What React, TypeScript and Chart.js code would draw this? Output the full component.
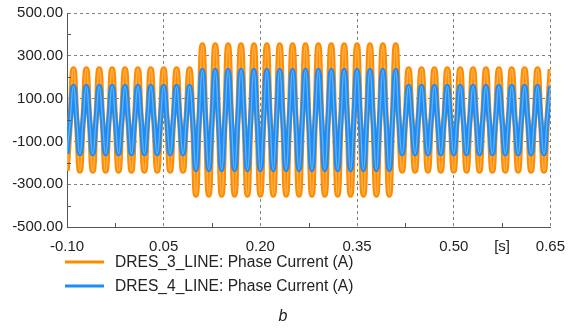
import React, { useEffect, useRef } from "react";
import { Chart, registerables } from "chart.js";

Chart.register(...registerables);

// Sampling grid of the recorded waveforms (quarter period of 50 Hz)
const SAMPLE_START = -0.1;
const SAMPLE_STEP = 0.005;

// Axis ticks
const X_TICKS = [-0.1, 0.05, 0.2, 0.35, 0.5, 0.65];
const X_MINOR = [-0.025, 0.125, 0.275, 0.425, 0.575];
const Y_TICKS = [-500, -300, -100, 100, 300, 500];
const Y_MINOR = [-400, -200, 0, 200, 400];
const X_UNIT = "[s]";
const X_UNIT_AT = 0.575;

const SERIES_NAMES = [
  "DRES_3_LINE: Phase Current (A)",
  "DRES_4_LINE: Phase Current (A)",
];
const CAPTION = "b";

// DRES_3_LINE phase current samples (A)
const DRES3 = [
  -238, 0, 238, 0, -238, 0, 238, 0, -238, 0, 238, 0, -238, 0, 238, 0, -238, 0, 238, 0,
  -238, 0, 238, 0, -238, 0, 238, 0, -238, 0, 238, 0, -238, 0, 238, 0, -238, 0, 238, 0,
  -350, 0, 350, 0, -350, 0, 350, 0, -350, 0, 350, 0, -350, 0, 350, 0, -350, 0, 350, 0,
  -350, 0, 350, 0, -350, 0, 350, 0, -350, 0, 350, 0, -350, 0, 350, 0, -350, 0, 350, 0,
  -350, 0, 350, 0, -350, 0, 350, 0, -350, 0, 350, 0, -350, 0, 350, 0, -350, 0, 350, 0,
  -350, 0, 350, 0, -238, 0, 238, 0, -238, 0, 238, 0, -238, 0, 238, 0, -238, 0, 238, 0,
  -238, 0, 238, 0, -238, 0, 238, 0, -238, 0, 238, 0, -238, 0, 238, 0, -238, 0, 238, 0,
  -238, 0, 238, 0, -238, 0, 238, 0, -238, 0, 238,
];

// DRES_4_LINE phase current samples (A)
const DRES4 = [
  -158, 0, 158, 0, -158, 0, 158, 0, -158, 0, 158, 0, -158, 0, 158, 0, -158, 0, 158, 0,
  -158, 0, 158, 0, -158, 0, 158, 0, -158, 0, 158, 0, -158, 0, 158, 0, -158, 0, 158, 0,
  -232, 0, 232, 0, -232, 0, 232, 0, -232, 0, 232, 0, -232, 0, 232, 0, -232, 0, 232, 0,
  -232, 0, 232, 0, -232, 0, 232, 0, -232, 0, 232, 0, -232, 0, 232, 0, -232, 0, 232, 0,
  -232, 0, 232, 0, -232, 0, 232, 0, -232, 0, 232, 0, -232, 0, 232, 0, -232, 0, 232, 0,
  -232, 0, 232, 0, -158, 0, 158, 0, -158, 0, 158, 0, -158, 0, 158, 0, -158, 0, 158, 0,
  -158, 0, 158, 0, -158, 0, 158, 0, -158, 0, 158, 0, -158, 0, 158, 0, -158, 0, 158, 0,
  -158, 0, 158, 0, -158, 0, 158, 0, -158, 0, 158,
];

const ORANGE = "#ff8c00";
const ORANGE_HI = "rgba(255, 205, 140, 0.55)";
const BLUE = "#1e8cf5";
const BLUE_HI = "rgba(170, 215, 255, 0.5)";
const FONT = "'Liberation Sans', Arial, sans-serif";
const TEXT = "#222222";

const toPoints = (vals: number[]) =>
  vals.map((v, i) => ({ x: SAMPLE_START + i * SAMPLE_STEP, y: v }));

const overlayPlugin = {
  id: "overlay",
  afterDraw(chart: any) {
    const { ctx, chartArea, scales } = chart;
    const xs = scales.x;
    const ys = scales.y;
    ctx.save();
    // minor ticks (inside)
    ctx.strokeStyle = "#555";
    ctx.lineWidth = 1;
    ctx.beginPath();
    X_MINOR.forEach((v) => {
      const px = Math.round(xs.getPixelForValue(v)) + 0.5;
      ctx.moveTo(px, chartArea.bottom);
      ctx.lineTo(px, chartArea.bottom - 4);
    });
    Y_MINOR.forEach((v) => {
      const py = Math.round(ys.getPixelForValue(v)) + 0.5;
      ctx.moveTo(chartArea.left, py);
      ctx.lineTo(chartArea.left + 4, py);
    });
    ctx.stroke();

    // unit label on x axis
    ctx.fillStyle = TEXT;
    ctx.font = `15px ${FONT}`;
    ctx.textAlign = "center";
    ctx.textBaseline = "middle";
    ctx.fillText(X_UNIT, xs.getPixelForValue(X_UNIT_AT), 247);

    // legend
    const colors = [ORANGE, BLUE];
    const rows = [262, 286];
    SERIES_NAMES.forEach((name, i) => {
      ctx.strokeStyle = colors[i];
      ctx.lineWidth = 3;
      ctx.beginPath();
      ctx.moveTo(65, rows[i]);
      ctx.lineTo(104, rows[i]);
      ctx.stroke();
      ctx.fillStyle = TEXT;
      ctx.font = `15.6px ${FONT}`;
      ctx.textAlign = "left";
      ctx.textBaseline = "middle";
      ctx.fillText(name, 115, rows[i] + 0.5);
    });

    // caption
    ctx.font = `italic 16px ${FONT}`;
    ctx.textAlign = "center";
    ctx.fillText(CAPTION, 283, 317);
    ctx.restore();
  },
};

export default function App() {
  const ref = useRef<HTMLCanvasElement>(null);

  useEffect(() => {
    const canvas = ref.current;
    if (!canvas) return;
    const d3 = toPoints(DRES3);
    const d4 = toPoints(DRES4);
    const common = {
      pointRadius: 0,
      pointHoverRadius: 0,
      tension: 0.55,
      fill: false,
      clip: 0,
    };
    const chart = new Chart(canvas, {
      type: "line",
      data: {
        datasets: [
          { ...common, label: SERIES_NAMES[1] + " hi", data: d4, borderColor: BLUE_HI, borderWidth: 1.3, order: 1 },
          { ...common, label: SERIES_NAMES[1], data: d4, borderColor: BLUE, borderWidth: 5, order: 2 },
          { ...common, label: SERIES_NAMES[0] + " hi", data: d3, borderColor: ORANGE_HI, borderWidth: 1.4, order: 3 },
          { ...common, label: SERIES_NAMES[0], data: d3, borderColor: ORANGE, borderWidth: 5.6, order: 4 },
        ],
      },
      options: {
        responsive: false,
        animation: false,
        events: [],
        layout: { padding: { left: 0, right: 15, top: 13, bottom: 0 } },
        plugins: {
          legend: { display: false },
          tooltip: { enabled: false },
        },
        scales: {
          x: {
            type: "linear",
            min: -0.1,
            max: 0.65,
            afterBuildTicks: (s: any) => {
              s.ticks = X_TICKS.map((v) => ({ value: v }));
            },
            afterFit: (s: any) => {
              s.height = 102;
            },
            ticks: {
              callback: (v: any) => Number(v).toFixed(2),
              font: { size: 15, family: FONT },
              color: TEXT,
              padding: 11,
              maxRotation: 0,
              autoSkip: false,
            },
            grid: { color: "#808080", lineWidth: 1, drawTicks: false },
            border: { color: "#555", width: 1, dash: [3, 3] },
          },
          y: {
            type: "linear",
            min: -500,
            max: 500,
            afterBuildTicks: (s: any) => {
              s.ticks = Y_TICKS.map((v) => ({ value: v }));
            },
            afterFit: (s: any) => {
              s.width = 67;
            },
            ticks: {
              callback: (v: any) => Number(v).toFixed(2),
              font: { size: 15, family: FONT },
              color: TEXT,
              padding: 4,
              autoSkip: false,
            },
            grid: { color: "#808080", lineWidth: 1, drawTicks: false },
            border: { color: "#555", width: 1, dash: [3, 3] },
          },
        },
      },
      plugins: [overlayPlugin],
    });
    return () => chart.destroy();
  }, []);

  return (
    <div style={{ position: "absolute", left: 0, top: 0, width: 576, height: 329, background: "#fff" }}>
      <canvas ref={ref} width={576} height={329} style={{ display: "block", width: 576, height: 329 }} />
    </div>
  );
}
